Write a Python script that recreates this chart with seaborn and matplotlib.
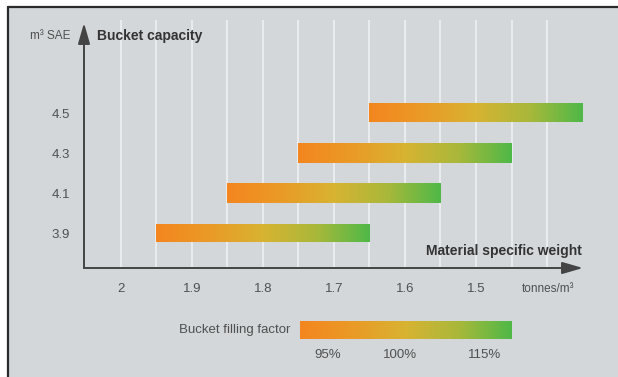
import numpy as np
import pandas as pd
import matplotlib
matplotlib.use("Agg")
import matplotlib.pyplot as plt
from matplotlib.colors import LinearSegmentedColormap
from matplotlib.patches import Rectangle
from matplotlib.lines import Line2D
import seaborn as sns

# ---- data ----
capacity = [3.9, 4.1, 4.3, 4.5]              # m3 SAE bucket sizes
weight_high = [1.95, 1.85, 1.75, 1.65]       # start of range (t/m3), left end
weight_low = [1.65, 1.55, 1.45, 1.35]        # end of range (t/m3), right end
x_major = [2.0, 1.9, 1.8, 1.7, 1.6, 1.5]
x_major_labels = ["2", "1.9", "1.8", "1.7", "1.6", "1.5"]
x_minor = [1.95, 1.85, 1.75, 1.65, 1.55, 1.45, 1.40]
y_ticks = [3.9, 4.1, 4.3, 4.5]
fill_labels = ["95%", "100%", "115%"]
fill_label_pos = [0.13, 0.47, 0.87]

W, H = 618, 377
sns.set_style("white")
plt.rcParams["font.family"] = ["Liberation Sans", "DejaVu Sans"]

fig = plt.figure(figsize=(W / 100, H / 100), dpi=100)
fig.patch.set_facecolor("white")

bg = "#d3d7da"
fig.add_artist(Rectangle((8 / W, 0), 1, 1 - 7 / H, transform=fig.transFigure,
                         facecolor=bg, edgecolor="none", zorder=-10))
fig.add_artist(Line2D([8 / W, 1], [1 - 7 / H, 1 - 7 / H], transform=fig.transFigure,
                      color="#2a2a2a", lw=1.6))
fig.add_artist(Line2D([8 / W, 8 / W], [0, 1 - 7 / H], transform=fig.transFigure,
                      color="#2a2a2a", lw=1.6))

ax = fig.add_axes([84 / W, (H - 268) / H, (583 - 84) / W, (268 - 20) / H])
ax.set_facecolor("none")

cmap = LinearSegmentedColormap.from_list(
    "fill", ["#f4861f", "#ea9a27", "#d8b332", "#a9b83a", "#4fb848"])

df = pd.DataFrame({
    "capacity": capacity,
    "span": np.array(weight_high) - np.array(weight_low),
})
sns.barplot(data=df, x="span", y="capacity", orient="y", native_scale=True,
            width=0.475, errorbar=None, left=weight_low, color="#f4861f",
            ax=ax, zorder=3)

grad = np.linspace(0, 1, 256)[None, :]
for p in list(ax.patches):
    x0, w = p.get_x(), p.get_width()
    y0, h = p.get_y(), p.get_height()
    p.set_facecolor("none")
    p.set_edgecolor("none")
    im = ax.imshow(grad, extent=(x0 + w, x0, y0, y0 + h), aspect="auto",
                   cmap=cmap, zorder=4, interpolation="bilinear")
    im.set_clip_path(p)

ax.set_xlim(2.0521, 1.3493)
ax.set_ylim(3.725, 4.965)
ax.set_aspect("auto")
ax.set_xlabel("")
ax.set_ylabel("")

ax.set_xticks(x_major)
ax.set_xticklabels(x_major_labels)
ax.set_xticks(x_minor, minor=True)
ax.set_yticks(y_ticks)
ax.set_yticklabels([f"{v:.1f}" for v in y_ticks])
ax.tick_params(axis="x", which="both", length=0, pad=11, labelsize=9.5,
               labelcolor="#505050")
ax.tick_params(axis="y", length=0, pad=10, labelsize=9.5, labelcolor="#505050")
ax.grid(False)
ax.xaxis.grid(True, which="both", color="white", lw=1.2, alpha=0.6, zorder=1)
ax.set_axisbelow(True)
for s in ax.spines.values():
    s.set_visible(False)

arrow_col = "#444444"
ax.annotate("", xy=(1.0, 0), xytext=(0, 0), xycoords="axes fraction",
            arrowprops=dict(arrowstyle="-|>,head_length=0.9,head_width=0.26",
                            color=arrow_col, lw=1.4, mutation_scale=14,
                            shrinkA=0, shrinkB=0), annotation_clip=False)
ax.annotate("", xy=(0, 0.988), xytext=(0, 0), xycoords="axes fraction",
            arrowprops=dict(arrowstyle="-|>,head_length=0.9,head_width=0.26",
                            color=arrow_col, lw=1.4, mutation_scale=14,
                            shrinkA=0, shrinkB=0), annotation_clip=False)

def fx(px):
    return px / W

def fy(py):
    return 1 - py / H

fig.text(fx(70), fy(36), "m³ SAE", ha="right", va="center", fontsize=8.5,
         color="#505050")
fig.text(fx(97), fy(36), "Bucket capacity", ha="left", va="center",
         fontsize=10, fontweight="bold", color="#333333")
fig.text(fx(582), fy(251), "Material specific weight", ha="right", va="center",
         fontsize=10, fontweight="bold", color="#333333")
fig.text(fx(548), fy(289), "tonnes/m³", ha="center", va="center", fontsize=8.5,
         color="#505050")
fig.text(fx(290), fy(330), "Bucket filling factor", ha="right", va="center",
         fontsize=9.5, color="#505050")

lax = fig.add_axes([300 / W, (H - 339) / H, 212 / W, 18 / H])
lax.imshow(grad, extent=(0, 1, 0, 1), aspect="auto", cmap=cmap,
           interpolation="bilinear")
lax.set_xlim(0, 1)
lax.set_ylim(0, 1)
lax.set_axis_off()
for pos, lab in zip(fill_label_pos, fill_labels):
    fig.text(fx(300 + pos * 212), fy(355), lab, ha="center", va="center",
             fontsize=9.5, color="#505050")

fig.savefig("out.png", dpi=100, facecolor=fig.get_facecolor())
